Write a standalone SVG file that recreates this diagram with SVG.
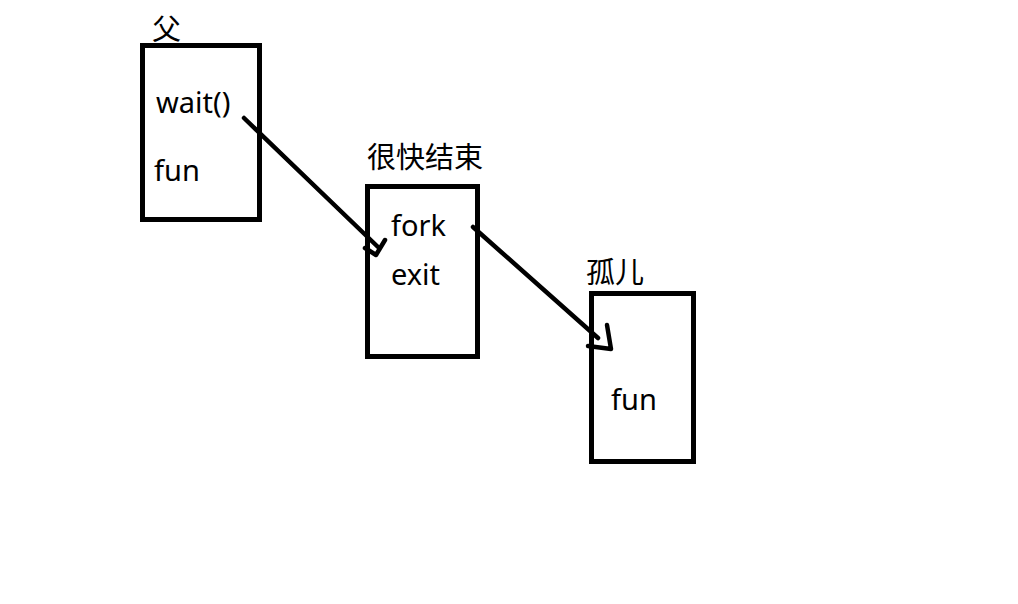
<svg xmlns="http://www.w3.org/2000/svg" width="1018" height="604" viewBox="0 0 1018 604">
<style>
.box{fill:none;stroke:#000;stroke-width:5}
.t{font-family:"Noto Sans","Noto Sans CJK SC",sans-serif;font-size:29px;fill:#000}
.c{font-family:"Noto Sans CJK SC",sans-serif;font-size:29px;fill:#000}
.ln{fill:none;stroke:#000;stroke-width:4.5;stroke-linecap:round;stroke-linejoin:round}
</style>
<rect width="1018" height="604" fill="#fff"/>
<g id="parent">
<rect class="box" x="142.5" y="45.5" width="117" height="174"/>
<text class="c" x="152" y="40">父</text>
<text class="t" x="156" y="113">wait()</text>
<text class="t" x="154" y="181">fun</text>
</g>
<g id="child">
<rect class="box" x="367.5" y="186.5" width="110" height="170"/>
<text class="c" x="367" y="168">很快结束</text>
<text class="t" x="391" y="236">fork</text>
<text class="t" x="391" y="285">exit</text>
</g>
<g id="orphan">
<rect class="box" x="591.5" y="293.5" width="102" height="168"/>
<text class="c" x="586" y="283">孤儿</text>
<text class="t" x="611" y="410">fun</text>
</g>
<g id="connectors">
<path class="ln" d="M244,118 L378,247"/>
<path class="ln" d="M365,248 L376,255 L385,240"/>
<path class="ln" d="M473,227 L598,338"/>
<path class="ln" d="M588,346 L611,349 L607,325"/>
</g>
</svg>
